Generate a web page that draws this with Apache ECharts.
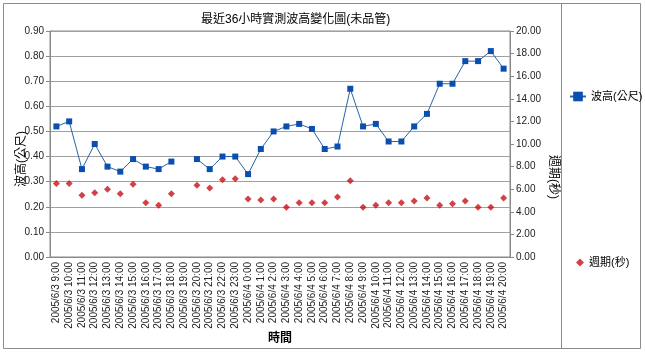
<!DOCTYPE html>
<html><head><meta charset="utf-8">
<script src="https://cdn.jsdelivr.net/npm/echarts@6/dist/echarts.min.js"></script>
<style>html,body{margin:0;padding:0;background:#fff}#c{width:645px;height:352px}</style>
</head><body><div id="c"></div>
<script>
var categories = [
 '2005/6/3 9:00','2005/6/3 10:00','2005/6/3 11:00','2005/6/3 12:00','2005/6/3 13:00','2005/6/3 14:00',
 '2005/6/3 15:00','2005/6/3 16:00','2005/6/3 17:00','2005/6/3 18:00','2005/6/3 19:00','2005/6/3 20:00',
 '2005/6/3 21:00','2005/6/3 22:00','2005/6/3 23:00','2005/6/4 0:00','2005/6/4 1:00','2005/6/4 2:00',
 '2005/6/4 3:00','2005/6/4 4:00','2005/6/4 5:00','2005/6/4 6:00','2005/6/4 7:00','2005/6/4 8:00',
 '2005/6/4 9:00','2005/6/4 10:00','2005/6/4 11:00','2005/6/4 12:00','2005/6/4 13:00','2005/6/4 14:00',
 '2005/6/4 15:00','2005/6/4 16:00','2005/6/4 17:00','2005/6/4 18:00','2005/6/4 19:00','2005/6/4 20:00'];
var waveHeight = [0.52,0.54,0.35,0.45,0.36,0.34,0.39,0.36,0.35,0.38,'-',0.39,
 0.35,0.40,0.40,0.33,0.43,0.50,0.52,0.53,0.51,0.43,0.44,0.67,
 0.52,0.53,0.46,0.46,0.52,0.57,0.69,0.69,0.78,0.78,0.82,0.75];
var wavePeriod = [6.5,6.5,5.46,5.69,6.0,5.6,6.43,4.81,4.57,5.6,'-',6.34,
 6.1,6.84,6.93,5.13,5.04,5.13,4.4,4.81,4.81,4.81,5.31,6.75,
 4.4,4.57,4.81,4.81,4.96,5.22,4.57,4.72,4.96,4.4,4.4,5.22];
var leftTicks = {min:0, max:0.9, interval:0.1};
var rightTicks = {min:0, max:20, interval:2};

var FONT = '"Liberation Sans", "Noto Sans CJK TC", sans-serif';
var chart = echarts.init(document.getElementById('c'), null, {renderer:'canvas'});
chart.setOption({
  animation:false,
  backgroundColor:'#fff',
  textStyle:{fontFamily:FONT},
  title:{text:'最近36小時實測波高變化圖(未品管)', left:196, top:9,
    textStyle:{fontSize:12, fontWeight:'normal', color:'#000', fontFamily:FONT}},
  graphic:[
    {type:'rect', shape:{x:3.5,y:3.5,width:637,height:345}, style:{fill:null, stroke:'#8a8a8a', lineWidth:1}, silent:true, z:-1},
    {type:'line', shape:{x1:561.5,y1:3.5,x2:561.5,y2:348.5}, style:{stroke:'#8a8a8a', lineWidth:1}, silent:true}
  ],
  legend:[
    {data:['波高(公尺)'], left:564, top:86, itemWidth:16, itemHeight:12, itemGap:4,
     textStyle:{fontSize:11, color:'#000', fontFamily:FONT}},
    {data:['週期(秒)'], left:571, top:252, itemWidth:8, itemHeight:8,
     textStyle:{fontSize:11, color:'#000', fontFamily:FONT}}
  ],
  grid:{left:50, right:135, top:31, bottom:95, containLabel:false, outerBoundsMode:'none',
    show:true, borderColor:'#8a8a8a', borderWidth:1},
  xAxis:{type:'category', data:categories, boundaryGap:true,
    name:'時間', nameLocation:'middle', nameGap:76, nameMoveOverlap:false,
    nameTextStyle:{fontSize:12, fontWeight:'bold', color:'#000', fontFamily:FONT},
    axisLine:{lineStyle:{color:'#8a8a8a'}},
    axisTick:{inside:true, length:4, interval:0, lineStyle:{color:'#8a8a8a'}},
    axisLabel:{interval:0, rotate:90, fontSize:10, color:'#222', margin:5, fontFamily:FONT},
    splitLine:{show:false}},
  yAxis:[
    {type:'value', position:'left', min:leftTicks.min, max:leftTicks.max, interval:leftTicks.interval,
     name:'波高(公尺)', nameLocation:'middle', nameGap:22, nameMoveOverlap:false,
     nameTextStyle:{fontSize:12, color:'#000', fontFamily:FONT, padding:[0,30,0,0]},
     axisLine:{show:true, lineStyle:{color:'#8a8a8a'}},
     axisTick:{show:true, length:4, lineStyle:{color:'#8a8a8a'}},
     axisLabel:{fontSize:10, color:'#222', margin:6, fontFamily:FONT, formatter:function(v){return v.toFixed(2);}},
     splitLine:{show:true, lineStyle:{color:'#a0a0a0', width:1}}},
    {type:'value', position:'right', min:rightTicks.min, max:rightTicks.max, interval:rightTicks.interval,
     name:'週期(秒)', nameLocation:'middle', nameGap:37, nameRotate:-90, nameMoveOverlap:false,
     nameTextStyle:{fontSize:12, color:'#000', fontFamily:FONT, padding:[0,0,0,66]},
     axisLine:{show:true, lineStyle:{color:'#8a8a8a'}},
     axisTick:{show:true, length:4, lineStyle:{color:'#8a8a8a'}},
     axisLabel:{fontSize:10, color:'#222', margin:6, fontFamily:FONT, formatter:function(v){return v.toFixed(2);}},
     splitLine:{show:false}}
  ],
  series:[
    {name:'波高(公尺)', type:'line', yAxisIndex:0, data:waveHeight, connectNulls:false,
     symbol:'rect', symbolSize:6, showSymbol:true,
     lineStyle:{color:'#2a64a8', width:1}, itemStyle:{color:'#0a4fb0'}},
    {name:'週期(秒)', type:'scatter', yAxisIndex:1, data:wavePeriod,
     symbol:'diamond', symbolSize:7, itemStyle:{color:'#c4121a'}}
  ]
});
</script></body></html>
